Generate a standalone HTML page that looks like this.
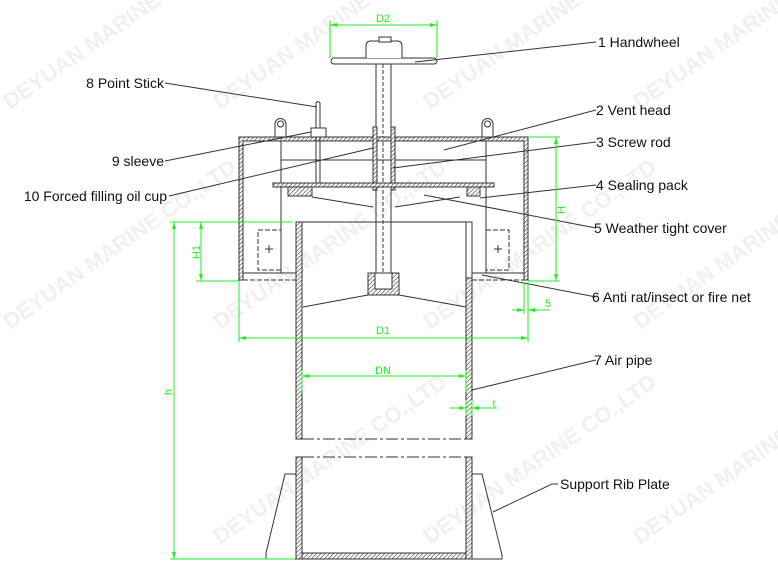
<!DOCTYPE html>
<html><head><meta charset="utf-8"><style>
html,body{margin:0;padding:0;background:#fff;}
svg{display:block;}
text{font-family:"Liberation Sans",sans-serif;}
</style></head><body>
<svg width="778" height="586" viewBox="0 0 778 586" xmlns="http://www.w3.org/2000/svg">
<defs>
<pattern id="h" width="3" height="3" patternUnits="userSpaceOnUse" patternTransform="rotate(45)">
<rect width="3" height="3" fill="#fff"/><line x1="0" y1="0" x2="0" y2="3" stroke="#444" stroke-width="1.3"/>
</pattern>
</defs>
<!-- watermarks -->
<g fill="#f0f0f0" font-size="22" font-weight="bold">
<text transform="translate(10,110) rotate(-35)">DEYUAN MARINE CO.,LTD</text>
<text transform="translate(220,110) rotate(-35)">DEYUAN MARINE CO.,LTD</text>
<text transform="translate(430,110) rotate(-35)">DEYUAN MARINE CO.,LTD</text>
<text transform="translate(640,110) rotate(-35)">DEYUAN MARINE CO.,LTD</text>
<text transform="translate(10,330) rotate(-35)">DEYUAN MARINE CO.,LTD</text>
<text transform="translate(220,330) rotate(-35)">DEYUAN MARINE CO.,LTD</text>
<text transform="translate(430,330) rotate(-35)">DEYUAN MARINE CO.,LTD</text>
<text transform="translate(640,330) rotate(-35)">DEYUAN MARINE CO.,LTD</text>
<text transform="translate(220,545) rotate(-35)">DEYUAN MARINE CO.,LTD</text>
<text transform="translate(430,545) rotate(-35)">DEYUAN MARINE CO.,LTD</text>
<text transform="translate(640,545) rotate(-35)">DEYUAN MARINE CO.,LTD</text>
</g>
<g stroke="#333" stroke-width="1" fill="none">
<rect x="331" y="58" width="106" height="6" rx="3" fill="#fff"/>
<path d="M366 58 V46 Q366 41 371 41 H397 Q402 41 402 46 V58" fill="#fff"/>
<rect x="379" y="37" width="12" height="5" fill="#fff"/>
<line x1="376" y1="64" x2="376" y2="292"/>
<line x1="391" y1="64" x2="391" y2="292"/>
<line x1="383" y1="64" x2="383" y2="292" stroke-dasharray="4 2"/>
<path d="M239 137 H528 V280 H524 V141 H243 V280 H239 Z" fill="url(#h)"/>
<line x1="281" y1="141" x2="281" y2="273"/>
<line x1="486" y1="141" x2="486" y2="273"/>
<line x1="281" y1="160" x2="486" y2="160"/>
<line x1="243" y1="273" x2="296" y2="273"/>
<line x1="243" y1="280" x2="296" y2="280" stroke-dasharray="5 2"/>
<line x1="472" y1="273" x2="524" y2="273"/>
<line x1="472" y1="280" x2="524" y2="280" stroke-dasharray="5 2"/>
<path d="M275 137 V124 A5.5 5.5 0 0 1 286 124 V137"/><circle cx="280.5" cy="124" r="3"/>
<path d="M482 137 V124 A5.5 5.5 0 0 1 493 124 V137"/><circle cx="487.5" cy="124" r="3"/>
<path d="M316 185 V103 Q318 100 320 103 V185"/>
<rect x="311" y="128" width="15" height="9" fill="#fff"/>
<rect x="373" y="127" width="4" height="63" fill="url(#h)"/>
<rect x="391" y="127" width="4" height="63" fill="url(#h)"/>
<rect x="273" y="183" width="221" height="4" fill="url(#h)"/>
<rect x="288" y="187" width="24" height="9" fill="url(#h)"/>
<rect x="467" y="187" width="13" height="9" fill="url(#h)"/>
<line x1="312" y1="197" x2="373" y2="207"/>
<line x1="395" y1="207" x2="460" y2="197"/>
<rect x="258" y="230" width="23" height="40" stroke-dasharray="5 2"/>
<rect x="486" y="230" width="23" height="40" stroke-dasharray="5 2"/>
<path d="M269 245 v8 M265 249 h8 M498 245 v8 M494 249 h8"/>
<line x1="296" y1="222" x2="472" y2="222"/>
<rect x="296" y="222" width="6" height="217" fill="url(#h)"/>
<rect x="466" y="278" width="6" height="161" fill="url(#h)"/>
<rect x="466" y="222" width="6" height="56" fill="#fff"/>
<line x1="302" y1="439" x2="466" y2="439" stroke-dasharray="12 3 3 3"/>
<path d="M368 273 H399 V295 H368 Z" fill="url(#h)"/>
<rect x="375" y="273" width="17" height="16" fill="#fff"/>
<line x1="303" y1="307" x2="368" y2="295"/>
<line x1="399" y1="295" x2="466" y2="307"/>
<line x1="302" y1="457" x2="466" y2="457" stroke-dasharray="12 3 3 3"/>
<rect x="296" y="457" width="6" height="102" fill="url(#h)"/>
<rect x="466" y="457" width="6" height="102" fill="url(#h)"/>
<rect x="302" y="553" width="164" height="6" fill="url(#h)"/>
<path d="M296 474 H285 L266 553 V559 H296"/>
<path d="M472 474 H482 L502 555 V559 H472"/>
<line x1="415" y1="62" x2="596" y2="42"/>
<line x1="444" y1="150" x2="596" y2="110"/>
<line x1="393" y1="168" x2="596" y2="142"/>
<line x1="480" y1="198" x2="596" y2="185"/>
<line x1="424" y1="195" x2="596" y2="228"/>
<line x1="482" y1="275" x2="596" y2="297"/>
<line x1="472" y1="390" x2="596" y2="360"/>
<polyline points="493,512 552,484 558,484"/>
<line x1="165" y1="83" x2="317" y2="107"/>
<line x1="165" y1="161" x2="311" y2="132"/>
<line x1="169" y1="196" x2="373" y2="148"/>
</g>
<g stroke="#2e2" stroke-width="1" fill="none">
<path d="M330 20 V58 M437 20 V58 M330 25 H437"/>
<path d="M170 222 H293 M196 281 H240 M201 222 V281 M174 222 V559 M170 559 H295"/>
<path d="M528 137 H560 M528 281 H560 M556 137 V281"/>
<path d="M524 282 V314 M528 282 V314 M512 310 H524 M528 310 H550"/>
<path d="M239 282 V342 M528 314 V342 M239 338 H528"/>
<path d="M302 370 V392 M466 370 V392 M302 376 H466"/>
<path d="M466 400 V416 M472 400 V416 M450 408 H466 M472 408 H497"/>
</g>
<g fill="#2e2">
<path d="M330 25 l7 -2 v4z M437 25 l-7 -2 v4z"/>
<path d="M201 222 l-2 7 h4z M201 281 l-2 -7 h4z M174 222 l-2 7 h4z M174 559 l-2 -7 h4z"/>
<path d="M556 137 l-2 7 h4z M556 281 l-2 -7 h4z"/>
<path d="M524 310 l-7 -2 v4z M528 310 l7 -2 v4z"/>
<path d="M239 338 l7 -2 v4z M528 338 l-7 -2 v4z"/>
<path d="M302 376 l7 -2 v4z M466 376 l-7 -2 v4z"/>
<path d="M466 408 l-7 -2 v4z M472 408 l7 -2 v4z"/>
</g>
<g fill="#2e2" font-size="11" text-anchor="middle">
<text x="383" y="22">D2</text>
<text x="383" y="334">D1</text>
<text x="383" y="374">DN</text>
<text x="548" y="307">5</text>
<text x="494" y="407">t</text>
<text transform="translate(200,252) rotate(-90)">H1</text>
<text transform="translate(565,210) rotate(-90)">H</text>
<text transform="translate(172,392) rotate(-90)">h</text>
</g>
<g fill="#111" font-size="14">
<text x="598" y="47">1 Handwheel</text>
<text x="596" y="115">2 Vent head</text>
<text x="596" y="147">3 Screw rod</text>
<text x="596" y="190">4 Sealing pack</text>
<text x="594" y="233">5 Weather tight cover</text>
<text x="592" y="302">6 Anti rat/insect or fire net</text>
<text x="594" y="365">7 Air pipe</text>
<text x="560" y="489">Support Rib Plate</text>
<text x="164" y="88" text-anchor="end">8 Point Stick</text>
<text x="164" y="166" text-anchor="end">9 sleeve</text>
<text x="167" y="201" text-anchor="end">10 Forced filling oil cup</text>
</g>
</svg>
</body></html>
